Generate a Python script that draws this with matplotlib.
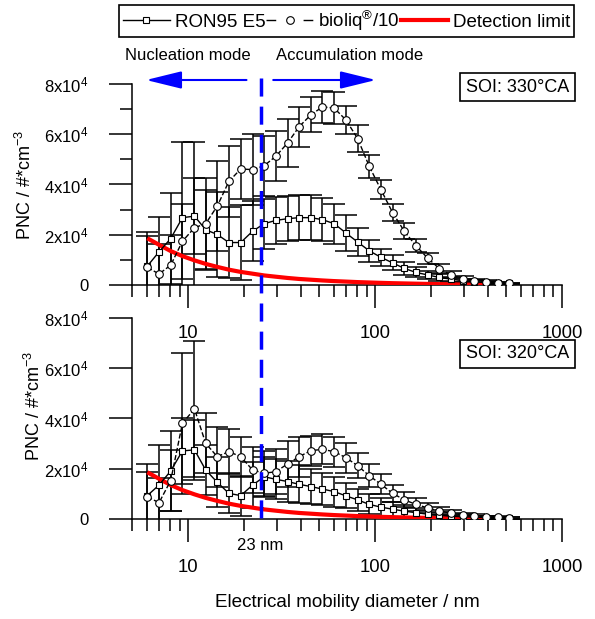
import numpy as np
import matplotlib
matplotlib.use('Agg')
import matplotlib.pyplot as plt
import matplotlib.transforms as mtransforms
from matplotlib.lines import Line2D
from matplotlib.ticker import NullFormatter

plt.rcParams['font.family'] = ['Liberation Sans', 'DejaVu Sans']
plt.rcParams['mathtext.fontset'] = 'custom'
plt.rcParams['mathtext.rm'] = 'Liberation Sans'
plt.rcParams['mathtext.it'] = 'Liberation Sans:italic'
plt.rcParams['font.size'] = 12

# EEPS channel diameters (nm)
diameter = np.array([6.04, 6.98, 8.06, 9.31, 10.8, 12.4, 14.3, 16.5, 19.1, 22.1, 25.5, 29.4,
                     34.0, 39.2, 45.3, 52.3, 60.4, 69.8, 80.6, 93.1, 107.5, 124.1, 143.3, 165.5,
                     191.1, 220.7, 254.8, 294.3, 339.8, 392.4, 453.2, 523.3])

# SOI 330 CA
ron_330 = [7500, 13200, 18500, 26800, 27400, 22000, 20100, 16900, 16900, 21400, 24400, 25700,
           26400, 26800, 26800, 26000, 24400, 20700, 17100, 13600, 11000, 8800, 6600, 5000,
           4000, 3000, 2300, 1700, 1300, 1100, 800, 600]
ron_330_err = [12000, 14000, 18000, 30000, 15000, 16000, 17000, 14000, 15000, 12000, 10000, 9500,
               9000, 9000, 9000, 8500, 8000, 7000, 5500, 4500, 3500, 3000, 2500, 2000,
               1600, 1300, 1000, 800, 600, 500, 400, 300]
bio_330 = [7000, 4400, 7900, 17400, 22800, 24400, 31400, 41200, 46200, 45900, 47500, 51200,
           56500, 63000, 67700, 70900, 70400, 65700, 58300, 47200, 37900, 28800, 21400, 15600,
           10700, 6500, 4000, 2400, 1600, 1200, 800, 600]
bio_330_err = [14000, 12000, 12000, 15000, 34000, 18000, 18000, 14000, 12000, 14000, 12000, 10000,
               9500, 8000, 7000, 6500, 6500, 5500, 5300, 4500, 3800, 3500, 3100, 2600,
               2200, 1800, 1400, 1100, 800, 600, 400, 300]

# SOI 320 CA
ron_320 = [9300, 13500, 19100, 27100, 27500, 19500, 14600, 10200, 9300, 13500, 16800, 15800,
           14900, 13800, 12900, 11900, 10900, 9200, 7600, 5800, 4700, 3900, 3100, 2500,
           1900, 1500, 1100, 900, 700, 500, 400, 300]
ron_320_err = [12500, 16000, 16000, 13000, 12000, 10000, 10000, 8000, 8000, 9000, 8000, 8000,
               8000, 7500, 7000, 6500, 6000, 5000, 4500, 4000, 3500, 3000, 2500, 2000,
               1600, 1300, 1000, 800, 600, 500, 400, 300]
bio_320 = [8800, 6500, 15300, 38100, 43800, 30100, 24800, 26800, 24800, 19500, 18200, 18800,
           21900, 24800, 27200, 27700, 26800, 24400, 21200, 17200, 13800, 10200, 7600, 5800,
           4400, 3200, 2300, 1600, 1100, 800, 600, 400]
bio_320_err = [10000, 10000, 12000, 28000, 27000, 12000, 12000, 9000, 8000, 9000, 9000, 9000,
               9000, 8000, 6000, 6000, 6000, 6000, 5000, 4500, 4000, 3500, 3000, 2500,
               2000, 1500, 1200, 900, 700, 500, 400, 300]

# detection limit, first 30 channels
detection = [18600, 16000, 13500, 11500, 9800, 8400, 7200, 6100, 5200, 4500, 3800, 3300,
             2800, 2400, 2100, 1800, 1550, 1350, 1150, 1000, 850, 720, 620, 520,
             430, 340, 250, 170, 100, 50]

mode_boundary = 24.4
yticks = [0, 2e4, 4e4, 6e4, 8e4]
ytick_labels = ['0', '2x10$^{4}$', '4x10$^{4}$', '6x10$^{4}$', '8x10$^{4}$']

fig = plt.figure(figsize=(5.95, 6.19), dpi=100)
ax1 = fig.add_axes([0.2218, 0.5396, 0.7227, 0.3247])
ax2 = fig.add_axes([0.2218, 0.1616, 0.7227, 0.3247])
# keep the upper panel's tick labels visible over the lower panel
ax2.patch.set_visible(False)


def draw_panel(ax, ron, ron_err, bio, bio_err, minor_y):
    # error bars first so markers sit on top
    for vals, err in [(ron, ron_err), (bio, bio_err)]:
        ax.errorbar(diameter, vals, yerr=err, fmt='none', ecolor='black', elinewidth=1.1,
                    capsize=8, capthick=1.1, zorder=1)
    ax.plot(diameter[:len(detection)], detection, color='red', lw=3, zorder=3,
            solid_capstyle='butt')
    ax.plot(diameter, ron, color='black', lw=1, marker='s', ms=4.5, mfc='white',
            mec='black', mew=0.8, zorder=4)
    ax.plot(diameter, bio, color='black', lw=1, ls='--', marker='o', ms=5.5, mfc='white',
            mec='black', mew=0.8, zorder=4)

    ax.set_xscale('log')
    ax.set_xlim(5, 1000)
    ax.set_ylim(0, 8e4)
    ax.set_xticks([10, 100, 1000])
    ax.set_xticklabels(['10', '100', '1000'], fontsize=13.3)
    minor_x = [m * d for d in (1, 10, 100) for m in range(2, 10) if m * d >= 5]
    ax.set_xticks(minor_x, minor=True)
    ax.xaxis.set_minor_formatter(NullFormatter())
    ax.set_yticks(yticks)
    ax.set_yticklabels(ytick_labels)
    ax.set_yticks(minor_y, minor=True)

    for side in ['top', 'right']:
        ax.spines[side].set_visible(False)
    for side in ['left', 'bottom']:
        ax.spines[side].set_linewidth(1.1)
    ax.tick_params(which='major', direction='out', length=16.5, width=1.1, pad=12)
    ax.tick_params(which='minor', direction='out', length=8.5, width=1.1)
    ax.tick_params(axis='y', which='major', pad=15)

    ax.set_ylabel('PNC / #*cm$^{-3}$', fontsize=13)


draw_panel(ax1, ron_330, ron_330_err, bio_330, bio_330_err, [1e4, 3e4, 5e4, 7e4])
draw_panel(ax2, ron_320, ron_320_err, bio_320, bio_320_err, [])
ax1.yaxis.set_label_coords(-0.225, 0.5)
ax2.yaxis.set_label_coords(-0.205, 0.56)
ax2.set_xlabel('Electrical mobility diameter / nm', fontsize=13.6, labelpad=13)

box = dict(boxstyle='square,pad=0.33', facecolor='white', edgecolor='black', lw=1.2)
fig.text(517.5 / 595, 1 - 87 / 619, 'SOI: 330°CA', ha='center', va='center', fontsize=13, bbox=box)
fig.text(517.5 / 595, 1 - 354 / 619, 'SOI: 320°CA', ha='center', va='center', fontsize=13, bbox=box)

ax2.text(mode_boundary, -0.13, '23 nm', transform=mtransforms.blended_transform_factory(
    ax2.transData, ax2.transAxes), ha='center', va='center')

# 23 nm boundary and mode arrows across both panels
trans = mtransforms.blended_transform_factory(ax1.transData, fig.transFigure)
fig.add_artist(Line2D([mode_boundary, mode_boundary], [1 - 78 / 619, 1 - 521 / 619],
                      transform=trans, color='blue', lw=2.5, ls=(0, (5.2, 2.9)), zorder=10))
arrow_y = 1 - 80 / 619
arrow = dict(arrowstyle='-|>,head_length=1.1,head_width=0.27', mutation_scale=20,
             color='blue', lw=1.5, shrinkA=0, shrinkB=0)
ax1.annotate('', xy=(5.95, arrow_y), xytext=(20.5, arrow_y), xycoords=trans,
             textcoords=trans, arrowprops=arrow)
ax1.annotate('', xy=(101, arrow_y), xytext=(28.5, arrow_y), xycoords=trans,
             textcoords=trans, arrowprops=arrow)
fig.text(188 / 595, 1 - 56 / 619, 'Nucleation mode', ha='center', va='center')
fig.text(350 / 595, 1 - 56 / 619, 'Accumulation mode', ha='center', va='center')

handles = [
    Line2D([], [], color='black', lw=1, marker='s', ms=5, mfc='white', mec='black', mew=0.8),
    Line2D([], [], color='black', lw=1.0, ls=(0, (7, 19.7)), marker='o', ms=5.5, mfc='white',
           mec='black', mew=0.8),
    Line2D([], [], color='red', lw=3),
]
labels = ['RON95 E5', 'bioliq$^{\\rm ®}$/10', 'Detection limit']
leg = fig.legend(handles, labels, loc='upper center', bbox_to_anchor=(0.5824, 0.992), ncol=3,
                 fontsize=13.5, handlelength=2.5, handletextpad=0.27, columnspacing=0.05,
                 fancybox=False, edgecolor='black', framealpha=1, borderpad=0.2,
                 borderaxespad=0)
leg.get_frame().set_linewidth(1.2)

fig.savefig('out.png', dpi=100)
